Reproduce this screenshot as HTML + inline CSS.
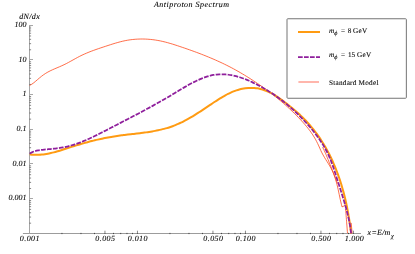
<!DOCTYPE html>
<html><head><meta charset="utf-8">
<style>
html,body{margin:0;padding:0;background:#fff;}
body{width:415px;height:254px;overflow:hidden;}
svg{display:block;}
text{font-family:"Liberation Serif",serif;fill:#000;stroke:#000;stroke-width:0.09px;text-rendering:geometricPrecision;}
</style></head><body>
<svg width="415" height="254" viewBox="0 0 415 254">
<rect width="415" height="254" fill="#fff"/>
<g fill="none" stroke-width="1">
<line x1="22.9" y1="233.5" x2="361" y2="233.5" stroke="#9c9c9c"/>
<line x1="29.5" y1="25" x2="29.5" y2="233.5" stroke="#a6a6a6"/>
<line x1="29" y1="223.18" x2="31.1" y2="223.18" stroke="#7c7c7c" stroke-width="0.9"/>
<line x1="29" y1="217.07" x2="31.1" y2="217.07" stroke="#7c7c7c" stroke-width="0.9"/>
<line x1="29" y1="212.74" x2="31.1" y2="212.74" stroke="#7c7c7c" stroke-width="0.9"/>
<line x1="29" y1="209.38" x2="31.1" y2="209.38" stroke="#7c7c7c" stroke-width="0.9"/>
<line x1="29" y1="206.63" x2="31.1" y2="206.63" stroke="#7c7c7c" stroke-width="0.9"/>
<line x1="29" y1="204.31" x2="31.1" y2="204.31" stroke="#7c7c7c" stroke-width="0.9"/>
<line x1="29" y1="202.30" x2="31.1" y2="202.30" stroke="#7c7c7c" stroke-width="0.9"/>
<line x1="29" y1="200.53" x2="31.1" y2="200.53" stroke="#7c7c7c" stroke-width="0.9"/>
<line x1="29" y1="198.50" x2="33" y2="198.50" stroke="#a8a8a8"/>
<line x1="29" y1="188.50" x2="31.1" y2="188.50" stroke="#7c7c7c" stroke-width="0.9"/>
<line x1="29" y1="182.39" x2="31.1" y2="182.39" stroke="#7c7c7c" stroke-width="0.9"/>
<line x1="29" y1="178.06" x2="31.1" y2="178.06" stroke="#7c7c7c" stroke-width="0.9"/>
<line x1="29" y1="174.70" x2="31.1" y2="174.70" stroke="#7c7c7c" stroke-width="0.9"/>
<line x1="29" y1="171.95" x2="31.1" y2="171.95" stroke="#7c7c7c" stroke-width="0.9"/>
<line x1="29" y1="169.63" x2="31.1" y2="169.63" stroke="#7c7c7c" stroke-width="0.9"/>
<line x1="29" y1="167.62" x2="31.1" y2="167.62" stroke="#7c7c7c" stroke-width="0.9"/>
<line x1="29" y1="165.85" x2="31.1" y2="165.85" stroke="#7c7c7c" stroke-width="0.9"/>
<line x1="29" y1="163.50" x2="33" y2="163.50" stroke="#a8a8a8"/>
<line x1="29" y1="153.82" x2="31.1" y2="153.82" stroke="#7c7c7c" stroke-width="0.9"/>
<line x1="29" y1="147.71" x2="31.1" y2="147.71" stroke="#7c7c7c" stroke-width="0.9"/>
<line x1="29" y1="143.38" x2="31.1" y2="143.38" stroke="#7c7c7c" stroke-width="0.9"/>
<line x1="29" y1="140.02" x2="31.1" y2="140.02" stroke="#7c7c7c" stroke-width="0.9"/>
<line x1="29" y1="137.27" x2="31.1" y2="137.27" stroke="#7c7c7c" stroke-width="0.9"/>
<line x1="29" y1="134.95" x2="31.1" y2="134.95" stroke="#7c7c7c" stroke-width="0.9"/>
<line x1="29" y1="132.94" x2="31.1" y2="132.94" stroke="#7c7c7c" stroke-width="0.9"/>
<line x1="29" y1="131.17" x2="31.1" y2="131.17" stroke="#7c7c7c" stroke-width="0.9"/>
<line x1="29" y1="129.50" x2="33" y2="129.50" stroke="#a8a8a8"/>
<line x1="29" y1="119.14" x2="31.1" y2="119.14" stroke="#7c7c7c" stroke-width="0.9"/>
<line x1="29" y1="113.03" x2="31.1" y2="113.03" stroke="#7c7c7c" stroke-width="0.9"/>
<line x1="29" y1="108.70" x2="31.1" y2="108.70" stroke="#7c7c7c" stroke-width="0.9"/>
<line x1="29" y1="105.34" x2="31.1" y2="105.34" stroke="#7c7c7c" stroke-width="0.9"/>
<line x1="29" y1="102.59" x2="31.1" y2="102.59" stroke="#7c7c7c" stroke-width="0.9"/>
<line x1="29" y1="100.27" x2="31.1" y2="100.27" stroke="#7c7c7c" stroke-width="0.9"/>
<line x1="29" y1="98.26" x2="31.1" y2="98.26" stroke="#7c7c7c" stroke-width="0.9"/>
<line x1="29" y1="96.49" x2="31.1" y2="96.49" stroke="#7c7c7c" stroke-width="0.9"/>
<line x1="29" y1="94.50" x2="33" y2="94.50" stroke="#a8a8a8"/>
<line x1="29" y1="84.46" x2="31.1" y2="84.46" stroke="#7c7c7c" stroke-width="0.9"/>
<line x1="29" y1="78.35" x2="31.1" y2="78.35" stroke="#7c7c7c" stroke-width="0.9"/>
<line x1="29" y1="74.02" x2="31.1" y2="74.02" stroke="#7c7c7c" stroke-width="0.9"/>
<line x1="29" y1="70.66" x2="31.1" y2="70.66" stroke="#7c7c7c" stroke-width="0.9"/>
<line x1="29" y1="67.91" x2="31.1" y2="67.91" stroke="#7c7c7c" stroke-width="0.9"/>
<line x1="29" y1="65.59" x2="31.1" y2="65.59" stroke="#7c7c7c" stroke-width="0.9"/>
<line x1="29" y1="63.58" x2="31.1" y2="63.58" stroke="#7c7c7c" stroke-width="0.9"/>
<line x1="29" y1="61.81" x2="31.1" y2="61.81" stroke="#7c7c7c" stroke-width="0.9"/>
<line x1="29" y1="59.50" x2="33" y2="59.50" stroke="#a8a8a8"/>
<line x1="29" y1="49.78" x2="31.1" y2="49.78" stroke="#7c7c7c" stroke-width="0.9"/>
<line x1="29" y1="43.67" x2="31.1" y2="43.67" stroke="#7c7c7c" stroke-width="0.9"/>
<line x1="29" y1="39.34" x2="31.1" y2="39.34" stroke="#7c7c7c" stroke-width="0.9"/>
<line x1="29" y1="35.98" x2="31.1" y2="35.98" stroke="#7c7c7c" stroke-width="0.9"/>
<line x1="29" y1="33.23" x2="31.1" y2="33.23" stroke="#7c7c7c" stroke-width="0.9"/>
<line x1="29" y1="30.91" x2="31.1" y2="30.91" stroke="#7c7c7c" stroke-width="0.9"/>
<line x1="29" y1="28.90" x2="31.1" y2="28.90" stroke="#7c7c7c" stroke-width="0.9"/>
<line x1="29" y1="27.13" x2="31.1" y2="27.13" stroke="#7c7c7c" stroke-width="0.9"/>
<line x1="29" y1="25.50" x2="33" y2="25.50" stroke="#a8a8a8"/>
<line x1="61.96" y1="232.9" x2="61.96" y2="234.1" stroke="#444"/>
<line x1="80.98" y1="232.9" x2="80.98" y2="234.1" stroke="#444"/>
<line x1="94.47" y1="232.9" x2="94.47" y2="234.1" stroke="#444"/>
<line x1="104.94" y1="233" x2="104.94" y2="230.7" stroke="#888"/>
<line x1="104.94" y1="233" x2="104.94" y2="234" stroke="#555"/>
<line x1="113.49" y1="232.9" x2="113.49" y2="234.1" stroke="#444"/>
<line x1="120.72" y1="232.9" x2="120.72" y2="234.1" stroke="#444"/>
<line x1="126.98" y1="232.9" x2="126.98" y2="234.1" stroke="#444"/>
<line x1="132.51" y1="232.9" x2="132.51" y2="234.1" stroke="#444"/>
<line x1="137.45" y1="233" x2="137.45" y2="230.7" stroke="#888"/>
<line x1="137.45" y1="233" x2="137.45" y2="234" stroke="#555"/>
<line x1="169.96" y1="232.9" x2="169.96" y2="234.1" stroke="#444"/>
<line x1="188.98" y1="232.9" x2="188.98" y2="234.1" stroke="#444"/>
<line x1="202.47" y1="232.9" x2="202.47" y2="234.1" stroke="#444"/>
<line x1="212.94" y1="233" x2="212.94" y2="230.7" stroke="#888"/>
<line x1="212.94" y1="233" x2="212.94" y2="234" stroke="#555"/>
<line x1="221.49" y1="232.9" x2="221.49" y2="234.1" stroke="#444"/>
<line x1="228.72" y1="232.9" x2="228.72" y2="234.1" stroke="#444"/>
<line x1="234.98" y1="232.9" x2="234.98" y2="234.1" stroke="#444"/>
<line x1="240.51" y1="232.9" x2="240.51" y2="234.1" stroke="#444"/>
<line x1="245.45" y1="233" x2="245.45" y2="230.7" stroke="#888"/>
<line x1="245.45" y1="233" x2="245.45" y2="234" stroke="#555"/>
<line x1="277.96" y1="232.9" x2="277.96" y2="234.1" stroke="#444"/>
<line x1="296.98" y1="232.9" x2="296.98" y2="234.1" stroke="#444"/>
<line x1="310.47" y1="232.9" x2="310.47" y2="234.1" stroke="#444"/>
<line x1="320.94" y1="233" x2="320.94" y2="230.7" stroke="#888"/>
<line x1="320.94" y1="233" x2="320.94" y2="234" stroke="#555"/>
<line x1="329.49" y1="232.9" x2="329.49" y2="234.1" stroke="#444"/>
<line x1="336.72" y1="232.9" x2="336.72" y2="234.1" stroke="#444"/>
<line x1="342.98" y1="232.9" x2="342.98" y2="234.1" stroke="#444"/>
<line x1="348.51" y1="232.9" x2="348.51" y2="234.1" stroke="#444"/>
<line x1="353.45" y1="233" x2="353.45" y2="230.7" stroke="#888"/>
<line x1="353.45" y1="233" x2="353.45" y2="234" stroke="#555"/>
</g>
<g fill="none" stroke-linejoin="round">
<path d="M29.63,85.41 C29.99,85.21 31.09,84.65 31.79,84.21 C32.49,83.76 33.15,83.26 33.81,82.75 C34.47,82.24 35.10,81.69 35.75,81.14 C36.39,80.60 37.03,80.04 37.67,79.49 C38.32,78.94 38.96,78.38 39.62,77.84 C40.27,77.30 40.92,76.76 41.59,76.24 C42.26,75.72 42.93,75.20 43.62,74.72 C44.31,74.23 45.01,73.76 45.72,73.32 C46.43,72.87 47.16,72.46 47.89,72.05 C48.63,71.65 49.38,71.26 50.13,70.89 C50.88,70.52 51.65,70.16 52.41,69.81 C53.18,69.46 53.96,69.12 54.73,68.79 C55.51,68.45 56.29,68.12 57.07,67.79 C57.85,67.46 58.63,67.13 59.41,66.80 C60.19,66.46 60.97,66.13 61.75,65.78 C62.52,65.43 63.29,65.08 64.06,64.71 C64.82,64.35 65.58,63.96 66.34,63.58 C67.09,63.19 67.84,62.79 68.59,62.39 C69.34,61.98 70.08,61.57 70.82,61.16 C71.56,60.75 72.30,60.33 73.05,59.92 C73.79,59.50 74.52,59.09 75.27,58.68 C76.01,58.27 76.75,57.86 77.49,57.46 C78.24,57.06 78.98,56.67 79.73,56.29 C80.49,55.90 81.24,55.53 82.00,55.17 C82.76,54.81 83.52,54.46 84.29,54.11 C85.05,53.77 85.82,53.44 86.60,53.11 C87.37,52.78 88.15,52.47 88.93,52.15 C89.70,51.84 90.49,51.54 91.27,51.24 C92.06,50.94 92.85,50.65 93.64,50.36 C94.43,50.07 95.22,49.79 96.01,49.51 C96.81,49.23 97.60,48.96 98.40,48.68 C99.20,48.41 100.00,48.14 100.80,47.87 C101.60,47.60 102.41,47.34 103.21,47.07 C104.02,46.81 104.82,46.54 105.63,46.27 C106.43,46.01 107.24,45.74 108.05,45.48 C108.86,45.21 109.66,44.95 110.47,44.69 C111.28,44.43 112.09,44.17 112.91,43.92 C113.72,43.67 114.53,43.42 115.35,43.18 C116.16,42.93 116.98,42.70 117.79,42.47 C118.61,42.24 119.43,42.02 120.25,41.81 C121.07,41.60 121.89,41.39 122.72,41.20 C123.54,41.01 124.37,40.83 125.19,40.66 C126.02,40.50 126.85,40.34 127.68,40.20 C128.51,40.06 129.34,39.93 130.18,39.81 C131.01,39.70 131.85,39.59 132.68,39.50 C133.52,39.41 134.36,39.33 135.20,39.27 C136.03,39.20 136.87,39.15 137.71,39.11 C138.55,39.07 139.39,39.04 140.23,39.03 C141.07,39.01 141.92,39.01 142.76,39.01 C143.60,39.02 144.44,39.04 145.28,39.07 C146.12,39.11 146.96,39.15 147.80,39.21 C148.64,39.26 149.48,39.33 150.32,39.41 C151.15,39.49 151.99,39.58 152.83,39.68 C153.66,39.79 154.50,39.90 155.33,40.03 C156.17,40.15 157.00,40.29 157.83,40.44 C158.66,40.59 159.49,40.75 160.32,40.92 C161.15,41.09 161.97,41.27 162.79,41.46 C163.62,41.65 164.44,41.85 165.26,42.06 C166.08,42.27 166.90,42.49 167.71,42.71 C168.53,42.94 169.35,43.17 170.16,43.41 C170.98,43.65 171.79,43.89 172.60,44.14 C173.41,44.39 174.22,44.65 175.03,44.91 C175.84,45.17 176.65,45.43 177.45,45.70 C178.26,45.96 179.06,46.23 179.87,46.50 C180.67,46.77 181.48,47.04 182.28,47.32 C183.08,47.59 183.89,47.86 184.69,48.14 C185.49,48.41 186.29,48.69 187.09,48.97 C187.89,49.25 188.68,49.53 189.48,49.81 C190.28,50.09 191.07,50.38 191.87,50.66 C192.66,50.95 193.46,51.24 194.25,51.53 C195.04,51.82 195.83,52.11 196.62,52.40 C197.42,52.70 198.20,52.99 198.99,53.29 C199.78,53.59 200.57,53.89 201.35,54.20 C202.14,54.50 202.92,54.81 203.71,55.12 C204.49,55.43 205.27,55.74 206.05,56.05 C206.83,56.37 207.61,56.68 208.39,57.00 C209.17,57.32 209.95,57.65 210.72,57.97 C211.50,58.30 212.27,58.63 213.05,58.96 C213.82,59.29 214.59,59.63 215.36,59.97 C216.13,60.31 216.90,60.65 217.67,61.00 C218.43,61.34 219.20,61.69 219.96,62.05 C220.73,62.40 221.49,62.76 222.25,63.12 C223.01,63.48 223.77,63.84 224.53,64.21 C225.29,64.58 226.04,64.95 226.80,65.33 C227.55,65.71 228.30,66.09 229.06,66.47 C229.81,66.86 230.56,67.25 231.31,67.64 C232.05,68.04 232.80,68.43 233.54,68.84 C234.29,69.24 235.03,69.65 235.77,70.06 C236.51,70.47 237.25,70.88 237.99,71.30 C238.73,71.72 239.46,72.14 240.20,72.57 C240.93,72.99 241.66,73.42 242.39,73.86 C243.12,74.29 243.85,74.73 244.58,75.17 C245.30,75.61 246.03,76.05 246.75,76.50 C247.47,76.94 248.19,77.39 248.91,77.84 C249.63,78.30 250.34,78.75 251.06,79.21 C251.77,79.67 252.48,80.13 253.19,80.59 C253.90,81.06 254.61,81.52 255.31,81.99 C256.02,82.46 256.72,82.93 257.42,83.40 C258.12,83.88 258.82,84.35 259.51,84.83 C260.21,85.31 260.90,85.79 261.59,86.28 C262.28,86.76 262.97,87.25 263.66,87.74 C264.35,88.23 265.03,88.72 265.71,89.22 C266.39,89.71 267.07,90.21 267.75,90.71 C268.43,91.21 269.10,91.72 269.77,92.23 C270.44,92.73 271.11,93.24 271.78,93.76 C272.45,94.27 273.11,94.79 273.77,95.31 C274.44,95.83 275.10,96.35 275.75,96.88 C276.41,97.40 277.06,97.93 277.71,98.47 C278.37,99.00 279.02,99.53 279.66,100.07 C280.31,100.61 280.95,101.15 281.59,101.70 C282.24,102.25 282.87,102.80 283.51,103.35 C284.15,103.90 284.78,104.46 285.41,105.02 C286.04,105.57 286.67,106.14 287.29,106.70 C287.92,107.27 288.54,107.84 289.16,108.41 C289.78,108.99 290.40,109.56 291.01,110.14 C291.62,110.73 292.23,111.31 292.84,111.90 C293.45,112.49 294.06,113.08 294.66,113.67 C295.26,114.27 295.86,114.87 296.46,115.47 C297.05,116.07 297.65,116.68 298.24,117.29 C298.83,117.90 299.42,118.52 300.00,119.14 C300.59,119.75 301.17,120.38 301.74,121.00 C302.32,121.63 302.89,122.26 303.46,122.90 C304.02,123.54 304.58,124.18 305.14,124.82 C305.69,125.47 306.24,126.12 306.78,126.77 C307.31,127.43 307.85,128.09 308.37,128.76 C308.89,129.42 309.40,130.10 309.91,130.77 C310.41,131.45 310.90,132.13 311.39,132.82 C311.87,133.51 312.34,134.21 312.80,134.91 C313.26,135.61 313.71,136.32 314.14,137.04 C314.58,137.75 315.00,138.47 315.41,139.20 C315.82,139.93 316.21,140.67 316.59,141.41 C316.98,142.15 317.34,142.90 317.71,143.65 C318.07,144.40 318.42,145.16 318.77,145.93 C319.12,146.69 319.45,147.46 319.79,148.23 C320.13,149.00 320.46,149.77 320.82,150.54 C321.17,151.30 321.53,152.07 321.91,152.82 C322.29,153.57 322.69,154.31 323.11,155.05 C323.52,155.79 323.95,156.51 324.38,157.24 C324.82,157.97 325.26,158.69 325.71,159.41 C326.15,160.12 326.61,160.84 327.06,161.56 C327.51,162.28 327.96,162.99 328.40,163.71 C328.84,164.43 329.28,165.15 329.70,165.88 C330.13,166.61 330.54,167.34 330.94,168.08 C331.34,168.82 331.72,169.57 332.09,170.32 C332.45,171.08 332.79,171.84 333.12,172.62 C333.45,173.39 333.76,174.17 334.06,174.95 C334.35,175.74 334.63,176.53 334.90,177.32 C335.17,178.12 335.42,178.92 335.67,179.73 C335.91,180.54 336.14,181.35 336.37,182.16 C336.59,182.97 336.80,183.79 337.01,184.61 C337.22,185.43 337.41,186.26 337.61,187.08 C337.80,187.90 337.98,188.73 338.17,189.56 C338.35,190.39 338.53,191.22 338.70,192.05 C338.88,192.88 339.05,193.71 339.23,194.54 C339.40,195.37 339.57,196.20 339.75,197.03 C339.92,197.86 340.10,198.69 340.28,199.51 C340.46,200.34 340.64,201.16 340.83,201.99 C341.02,202.81 341.21,203.63 341.41,204.45 C341.61,205.26 341.92,206.48 342.03,206.89" stroke="#ff3a0a" stroke-width="0.74"/>
<path d="M342.00,206.90 C342.43,206.68 344.07,206.17 344.60,205.60 C345.13,205.03 345.10,203.85 345.20,203.50" stroke="#ff3a0a" stroke-width="0.74"/>
<path d="M322.60,147.20 C322.98,148.00 324.13,150.30 324.90,152.00 C325.67,153.70 326.18,154.92 327.20,157.40 C328.22,159.88 329.95,164.27 331.00,166.90 C332.05,169.53 332.73,171.27 333.50,173.20 C334.27,175.13 334.92,176.78 335.60,178.50 C336.28,180.22 337.27,182.67 337.60,183.50" stroke="#ff3a0a" stroke-width="0.74"/>
<path d="M345.60,209.00 C345.78,211.32 346.38,218.87 346.70,222.90 C347.02,226.93 347.37,231.48 347.50,233.20" stroke="#ff3a0a" stroke-width="0.74"/>
<path d="M351.20,222.90 C351.35,224.62 351.95,231.48 352.10,233.20" stroke="#ff3a0a" stroke-width="0.74"/>
<path d="M29.73,154.33 C30.24,154.39 31.77,154.60 32.79,154.69 C33.81,154.78 34.82,154.83 35.84,154.84 C36.85,154.86 37.86,154.85 38.87,154.80 C39.87,154.76 40.88,154.69 41.88,154.59 C42.88,154.49 43.88,154.36 44.88,154.22 C45.88,154.07 46.88,153.90 47.87,153.71 C48.87,153.52 49.86,153.30 50.85,153.08 C51.84,152.85 52.83,152.61 53.82,152.35 C54.80,152.09 55.79,151.82 56.77,151.54 C57.76,151.26 58.74,150.96 59.72,150.67 C60.70,150.37 61.68,150.06 62.66,149.75 C63.64,149.44 64.62,149.12 65.59,148.81 C66.57,148.49 67.55,148.17 68.52,147.86 C69.50,147.54 70.47,147.23 71.44,146.92 C72.42,146.61 73.39,146.30 74.36,146.00 C75.33,145.70 76.31,145.40 77.28,145.11 C78.25,144.82 79.22,144.53 80.19,144.24 C81.16,143.96 82.14,143.68 83.11,143.40 C84.08,143.13 85.05,142.85 86.03,142.59 C87.00,142.32 87.97,142.06 88.95,141.80 C89.92,141.54 90.89,141.29 91.87,141.05 C92.85,140.80 93.82,140.56 94.80,140.32 C95.78,140.08 96.76,139.85 97.74,139.63 C98.72,139.40 99.70,139.18 100.68,138.96 C101.66,138.75 102.65,138.54 103.64,138.34 C104.62,138.13 105.61,137.94 106.60,137.75 C107.59,137.56 108.59,137.37 109.58,137.19 C110.58,137.01 111.57,136.84 112.57,136.67 C113.57,136.51 114.57,136.35 115.58,136.19 C116.58,136.04 117.59,135.90 118.60,135.75 C119.61,135.61 120.63,135.48 121.64,135.35 C122.65,135.21 123.67,135.09 124.69,134.96 C125.70,134.84 126.72,134.72 127.74,134.60 C128.76,134.48 129.78,134.36 130.80,134.25 C131.82,134.13 132.85,134.01 133.87,133.89 C134.89,133.78 135.91,133.66 136.93,133.54 C137.95,133.42 138.97,133.30 139.99,133.17 C141.01,133.04 142.03,132.92 143.04,132.78 C144.06,132.65 145.07,132.51 146.09,132.37 C147.10,132.23 148.11,132.08 149.12,131.92 C150.13,131.76 151.14,131.60 152.14,131.43 C153.14,131.26 154.14,131.08 155.14,130.89 C156.14,130.70 157.13,130.50 158.12,130.29 C159.11,130.09 160.10,129.87 161.08,129.63 C162.06,129.40 163.04,129.16 164.01,128.90 C164.98,128.64 165.95,128.38 166.91,128.09 C167.88,127.81 168.83,127.51 169.78,127.19 C170.74,126.88 171.68,126.55 172.62,126.20 C173.56,125.85 174.49,125.49 175.42,125.11 C176.35,124.73 177.27,124.34 178.19,123.93 C179.11,123.52 180.02,123.10 180.93,122.66 C181.83,122.23 182.74,121.78 183.63,121.32 C184.53,120.86 185.43,120.38 186.32,119.90 C187.21,119.42 188.09,118.93 188.97,118.42 C189.86,117.92 190.74,117.41 191.61,116.89 C192.49,116.37 193.36,115.84 194.23,115.31 C195.10,114.77 195.97,114.23 196.84,113.68 C197.71,113.13 198.57,112.58 199.43,112.02 C200.30,111.47 201.16,110.90 202.02,110.34 C202.88,109.77 203.74,109.20 204.59,108.63 C205.45,108.06 206.31,107.49 207.17,106.92 C208.02,106.34 208.88,105.77 209.74,105.19 C210.60,104.62 211.45,104.05 212.31,103.48 C213.17,102.90 214.03,102.33 214.89,101.77 C215.75,101.20 216.61,100.63 217.47,100.08 C218.34,99.52 219.20,98.97 220.07,98.43 C220.94,97.89 221.82,97.35 222.70,96.84 C223.58,96.32 224.46,95.81 225.35,95.32 C226.24,94.83 227.13,94.35 228.04,93.90 C228.94,93.44 229.85,93.00 230.77,92.58 C231.69,92.17 232.62,91.77 233.56,91.40 C234.49,91.03 235.44,90.68 236.40,90.37 C237.36,90.05 238.33,89.76 239.31,89.50 C240.29,89.24 241.28,89.00 242.28,88.80 C243.27,88.61 244.28,88.44 245.29,88.30 C246.29,88.17 247.30,88.06 248.31,88.00 C249.33,87.93 250.34,87.89 251.35,87.89 C252.35,87.90 253.36,87.93 254.36,88.01 C255.36,88.08 256.36,88.19 257.34,88.34 C258.32,88.49 259.30,88.68 260.26,88.91 C261.22,89.13 262.17,89.40 263.12,89.70 C264.06,90.00 264.99,90.34 265.91,90.70 C266.83,91.06 267.74,91.46 268.64,91.89 C269.55,92.31 270.44,92.76 271.33,93.24 C272.21,93.71 273.09,94.21 273.96,94.73 C274.83,95.25 275.70,95.80 276.56,96.35 C277.41,96.91 278.26,97.49 279.11,98.08 C279.95,98.66 280.79,99.27 281.63,99.88 C282.46,100.49 283.29,101.12 284.12,101.74 C284.95,102.37 285.77,103.01 286.59,103.65 C287.40,104.29 288.22,104.93 289.03,105.58 C289.84,106.23 290.65,106.88 291.45,107.54 C292.25,108.19 293.04,108.86 293.83,109.52 C294.62,110.19 295.41,110.87 296.18,111.54 C296.96,112.22 297.73,112.91 298.49,113.60 C299.25,114.29 300.01,114.99 300.75,115.69 C301.50,116.39 302.24,117.10 302.97,117.82 C303.70,118.54 304.42,119.26 305.13,119.99 C305.84,120.73 306.54,121.47 307.23,122.21 C307.92,122.96 308.60,123.71 309.27,124.47 C309.94,125.23 310.60,126.00 311.25,126.78 C311.90,127.55 312.55,128.33 313.18,129.12 C313.81,129.91 314.43,130.71 315.05,131.51 C315.66,132.31 316.26,133.12 316.86,133.93 C317.45,134.75 318.04,135.57 318.61,136.39 C319.19,137.22 319.76,138.05 320.32,138.89 C320.87,139.73 321.42,140.58 321.96,141.43 C322.50,142.28 323.04,143.13 323.56,143.99 C324.08,144.85 324.60,145.72 325.10,146.59 C325.61,147.47 326.10,148.34 326.59,149.22 C327.08,150.11 327.56,150.99 328.03,151.89 C328.51,152.78 328.97,153.68 329.43,154.58 C329.88,155.48 330.33,156.39 330.77,157.30 C331.21,158.21 331.64,159.12 332.06,160.04 C332.49,160.96 332.90,161.88 333.31,162.81 C333.72,163.74 334.12,164.67 334.51,165.60 C334.90,166.54 335.29,167.48 335.66,168.42 C336.04,169.36 336.41,170.31 336.77,171.26 C337.14,172.21 337.49,173.16 337.84,174.12 C338.19,175.07 338.53,176.03 338.86,177.00 C339.20,177.96 339.52,178.92 339.84,179.89 C340.16,180.86 340.47,181.83 340.78,182.80 C341.09,183.78 341.39,184.75 341.68,185.73 C341.97,186.71 342.26,187.69 342.54,188.67 C342.81,189.65 343.09,190.64 343.35,191.62 C343.62,192.61 343.88,193.60 344.13,194.59 C344.39,195.58 344.63,196.57 344.87,197.56 C345.12,198.56 345.35,199.55 345.58,200.55 C345.81,201.55 346.03,202.54 346.25,203.54 C346.47,204.54 346.68,205.54 346.88,206.54 C347.09,207.54 347.29,208.54 347.48,209.54 C347.68,210.55 347.86,211.55 348.05,212.55 C348.23,213.55 348.41,214.56 348.58,215.56 C348.75,216.57 348.92,217.57 349.08,218.57 C349.24,219.58 349.40,220.58 349.55,221.59 C349.70,222.59 349.85,223.60 349.99,224.60 C350.13,225.60 350.27,226.61 350.40,227.61 C350.53,228.61 350.66,229.61 350.78,230.61 C350.90,231.62 351.07,233.12 351.13,233.62" stroke="#ff9b12" stroke-width="2"/>
<path d="M29.65,153.50 C30.10,153.27 31.45,152.51 32.38,152.12 C33.31,151.72 34.27,151.41 35.24,151.13 C36.21,150.85 37.20,150.64 38.19,150.45 C39.19,150.25 40.20,150.11 41.22,149.98 C42.24,149.84 43.27,149.74 44.29,149.64 C45.32,149.53 46.36,149.43 47.39,149.33 C48.42,149.23 49.46,149.14 50.49,149.03 C51.53,148.93 52.56,148.82 53.60,148.71 C54.63,148.60 55.66,148.48 56.69,148.35 C57.72,148.22 58.75,148.08 59.78,147.92 C60.80,147.77 61.82,147.60 62.84,147.41 C63.85,147.23 64.86,147.02 65.87,146.80 C66.87,146.58 67.87,146.34 68.86,146.09 C69.86,145.83 70.85,145.56 71.83,145.27 C72.82,144.98 73.80,144.68 74.77,144.36 C75.75,144.05 76.72,143.72 77.69,143.38 C78.66,143.03 79.62,142.68 80.58,142.31 C81.54,141.94 82.50,141.56 83.45,141.17 C84.40,140.78 85.35,140.38 86.30,139.97 C87.25,139.56 88.19,139.15 89.13,138.72 C90.08,138.29 91.02,137.86 91.95,137.42 C92.89,136.98 93.83,136.53 94.76,136.07 C95.69,135.62 96.62,135.16 97.55,134.69 C98.48,134.23 99.41,133.76 100.34,133.29 C101.27,132.82 102.19,132.34 103.12,131.87 C104.04,131.39 104.97,130.91 105.89,130.43 C106.82,129.95 107.74,129.47 108.66,128.99 C109.59,128.51 110.51,128.03 111.43,127.55 C112.36,127.07 113.28,126.59 114.20,126.11 C115.13,125.63 116.05,125.15 116.97,124.68 C117.90,124.20 118.82,123.72 119.74,123.24 C120.66,122.77 121.59,122.29 122.51,121.81 C123.43,121.34 124.35,120.86 125.27,120.38 C126.19,119.91 127.11,119.43 128.03,118.95 C128.95,118.48 129.87,118.00 130.79,117.52 C131.71,117.04 132.63,116.56 133.55,116.08 C134.46,115.61 135.38,115.13 136.30,114.64 C137.21,114.16 138.13,113.68 139.04,113.20 C139.95,112.72 140.87,112.23 141.78,111.75 C142.69,111.26 143.60,110.78 144.51,110.29 C145.42,109.80 146.33,109.31 147.24,108.82 C148.14,108.33 149.05,107.84 149.96,107.35 C150.86,106.85 151.76,106.36 152.67,105.86 C153.57,105.36 154.47,104.86 155.37,104.36 C156.27,103.86 157.17,103.36 158.06,102.85 C158.96,102.35 159.86,101.84 160.75,101.33 C161.64,100.82 162.53,100.31 163.42,99.79 C164.31,99.28 165.20,98.76 166.09,98.24 C166.97,97.72 167.86,97.19 168.74,96.67 C169.62,96.14 170.50,95.61 171.38,95.08 C172.26,94.55 173.14,94.01 174.02,93.48 C174.90,92.95 175.78,92.41 176.66,91.88 C177.54,91.35 178.42,90.81 179.31,90.28 C180.19,89.75 181.08,89.22 181.97,88.69 C182.86,88.17 183.75,87.64 184.65,87.13 C185.55,86.61 186.45,86.09 187.36,85.58 C188.27,85.07 189.19,84.57 190.11,84.07 C191.03,83.58 191.96,83.08 192.90,82.60 C193.84,82.12 194.78,81.65 195.73,81.18 C196.69,80.72 197.65,80.27 198.62,79.83 C199.58,79.40 200.56,78.97 201.54,78.57 C202.52,78.17 203.50,77.79 204.49,77.43 C205.48,77.08 206.47,76.74 207.47,76.44 C208.47,76.13 209.47,75.85 210.47,75.61 C211.47,75.37 212.47,75.15 213.47,74.97 C214.48,74.80 215.48,74.66 216.49,74.55 C217.49,74.44 218.50,74.37 219.50,74.32 C220.51,74.28 221.52,74.27 222.52,74.29 C223.53,74.31 224.53,74.36 225.53,74.43 C226.54,74.51 227.54,74.62 228.54,74.75 C229.54,74.88 230.55,75.04 231.54,75.22 C232.54,75.41 233.54,75.61 234.53,75.85 C235.53,76.08 236.52,76.33 237.51,76.61 C238.50,76.88 239.49,77.18 240.47,77.50 C241.45,77.81 242.43,78.15 243.41,78.50 C244.39,78.85 245.36,79.23 246.33,79.61 C247.30,80.00 248.26,80.41 249.22,80.82 C250.18,81.24 251.14,81.67 252.09,82.12 C253.04,82.56 253.99,83.02 254.93,83.49 C255.87,83.96 256.80,84.44 257.73,84.92 C258.66,85.41 259.58,85.91 260.50,86.41 C261.42,86.92 262.33,87.43 263.23,87.95 C264.14,88.47 265.04,89.00 265.93,89.54 C266.82,90.08 267.71,90.62 268.59,91.17 C269.47,91.73 270.35,92.29 271.22,92.85 C272.09,93.42 272.95,94.00 273.81,94.58 C274.66,95.16 275.51,95.75 276.36,96.35 C277.20,96.95 278.04,97.55 278.88,98.17 C279.71,98.78 280.54,99.40 281.36,100.02 C282.18,100.65 283.00,101.28 283.81,101.92 C284.62,102.56 285.42,103.21 286.22,103.86 C287.02,104.51 287.81,105.18 288.60,105.84 C289.38,106.51 290.16,107.18 290.94,107.86 C291.71,108.54 292.48,109.23 293.25,109.92 C294.01,110.61 294.77,111.31 295.52,112.02 C296.27,112.72 297.02,113.43 297.76,114.15 C298.50,114.87 299.24,115.59 299.97,116.32 C300.70,117.05 301.42,117.78 302.14,118.52 C302.86,119.26 303.57,120.01 304.28,120.76 C304.99,121.51 305.69,122.27 306.39,123.03 C307.08,123.80 307.77,124.57 308.45,125.34 C309.14,126.11 309.81,126.90 310.48,127.68 C311.15,128.47 311.82,129.26 312.47,130.06 C313.12,130.86 313.77,131.66 314.41,132.47 C315.04,133.29 315.67,134.10 316.29,134.93 C316.91,135.75 317.52,136.58 318.12,137.42 C318.72,138.26 319.31,139.10 319.88,139.96 C320.46,140.81 321.03,141.67 321.59,142.53 C322.14,143.40 322.69,144.27 323.22,145.15 C323.75,146.03 324.27,146.92 324.78,147.82 C325.29,148.71 325.78,149.61 326.26,150.52 C326.75,151.44 327.21,152.35 327.67,153.28 C328.12,154.21 328.56,155.14 328.99,156.08 C329.41,157.03 329.82,157.98 330.22,158.94 C330.61,159.89 330.99,160.86 331.36,161.83 C331.74,162.80 332.09,163.78 332.44,164.76 C332.80,165.75 333.14,166.73 333.47,167.72 C333.81,168.71 334.13,169.71 334.45,170.70 C334.78,171.69 335.10,172.69 335.41,173.69 C335.73,174.68 336.04,175.68 336.35,176.68 C336.67,177.67 336.98,178.67 337.30,179.66 C337.61,180.65 337.93,181.64 338.25,182.63 C338.56,183.62 338.88,184.61 339.20,185.59 C339.51,186.58 339.83,187.57 340.14,188.55 C340.46,189.53 340.77,190.52 341.09,191.50 C341.40,192.49 341.71,193.47 342.02,194.45 C342.33,195.44 342.63,196.42 342.93,197.40 C343.24,198.39 343.54,199.37 343.83,200.35 C344.13,201.34 344.42,202.33 344.70,203.31 C344.99,204.30 345.27,205.29 345.55,206.28 C345.83,207.27 346.10,208.26 346.36,209.25 C346.63,210.24 346.89,211.24 347.14,212.24 C347.39,213.23 347.64,214.23 347.88,215.23 C348.11,216.24 348.35,217.24 348.57,218.25 C348.79,219.26 349.00,220.27 349.21,221.28 C349.41,222.30 349.61,223.32 349.80,224.34 C349.98,225.36 350.16,226.38 350.33,227.41 C350.49,228.44 350.65,229.48 350.79,230.52 C350.94,231.56 351.13,233.13 351.20,233.65" stroke="#8f1f9c" stroke-width="1.75" stroke-dasharray="4.7 1.3"/>
</g>
<rect x="287" y="18.75" width="119.35" height="79.5" fill="#fff" stroke="#747474" stroke-width="1" rx="0.8"/>
<line x1="298" y1="32" x2="320" y2="32" stroke="#ff9b12" stroke-width="2"/>
<line x1="298" y1="57" x2="320" y2="57" stroke="#8f1f9c" stroke-width="1.75" stroke-dasharray="4.7 1.3"/>
<line x1="298.4" y1="82" x2="319" y2="82" stroke="#ffb6ac" stroke-width="2"/>
<g style="filter:grayscale(1)">
<text x="154.00" y="6.60" text-anchor="start" font-style="italic" font-size="8" textLength="75" lengthAdjust="spacing">Antiproton Spectrum</text>
<text x="19.20" y="18.60" text-anchor="start" font-style="italic" font-size="8" textLength="20.6" lengthAdjust="spacing">dN/dx</text>
<text x="26.60" y="26.84" text-anchor="end" font-style="italic" font-size="8" >100</text>
<text x="26.60" y="61.52" text-anchor="end" font-style="italic" font-size="8" >10</text>
<text x="26.60" y="96.20" text-anchor="end" font-style="italic" font-size="8" >1</text>
<text x="26.60" y="130.88" text-anchor="end" font-style="italic" font-size="8" >0.1</text>
<text x="26.60" y="165.56" text-anchor="end" font-style="italic" font-size="8" >0.01</text>
<text x="26.60" y="200.24" text-anchor="end" font-style="italic" font-size="8" >0.001</text>
<text x="29.65" y="241.40" text-anchor="middle" font-style="italic" font-size="8" textLength="19.6" lengthAdjust="spacing">0.001</text>
<text x="105.14" y="241.40" text-anchor="middle" font-style="italic" font-size="8" textLength="19.6" lengthAdjust="spacing">0.005</text>
<text x="137.65" y="241.40" text-anchor="middle" font-style="italic" font-size="8" textLength="19.6" lengthAdjust="spacing">0.010</text>
<text x="213.14" y="241.40" text-anchor="middle" font-style="italic" font-size="8" textLength="19.6" lengthAdjust="spacing">0.050</text>
<text x="245.65" y="241.40" text-anchor="middle" font-style="italic" font-size="8" textLength="19.6" lengthAdjust="spacing">0.100</text>
<text x="321.14" y="241.40" text-anchor="middle" font-style="italic" font-size="8" textLength="19.6" lengthAdjust="spacing">0.500</text>
<text x="354.15" y="241.40" text-anchor="middle" font-style="italic" font-size="8" textLength="19.0" lengthAdjust="spacing">1.000</text>
<text x="367.60" y="235.20" text-anchor="start" font-style="italic" font-size="8" textLength="22.8" lengthAdjust="spacing">x=E/m</text>
<text x="390.90" y="237.60" text-anchor="start" font-style="italic" font-size="6.4" >χ</text>
<text x="329.00" y="32.80" text-anchor="start" font-style="italic" font-size="7.2" >m</text>
<text x="334.30" y="34.80" text-anchor="start" font-style="italic" font-size="6.0" >ϕ</text>
<text x="340.90" y="32.80" text-anchor="start" font-style="normal" font-size="7.2" >=</text>
<text x="347.80" y="32.80" text-anchor="start" font-style="normal" font-size="7.2" >8</text>
<text x="352.90" y="32.80" text-anchor="start" font-style="normal" font-size="7.2" textLength="14.3" lengthAdjust="spacing">GeV</text>
<text x="329.00" y="57.10" text-anchor="start" font-style="italic" font-size="7.2" >m</text>
<text x="334.30" y="59.10" text-anchor="start" font-style="italic" font-size="6.0" >ϕ</text>
<text x="340.90" y="57.10" text-anchor="start" font-style="normal" font-size="7.2" >=</text>
<text x="347.90" y="57.10" text-anchor="start" font-style="normal" font-size="7.2" >15</text>
<text x="357.00" y="57.10" text-anchor="start" font-style="normal" font-size="7.2" textLength="14.3" lengthAdjust="spacing">GeV</text>
<text x="329.00" y="84.70" text-anchor="start" font-style="normal" font-size="7.2" textLength="49.4" lengthAdjust="spacing">Standard Model</text>
</g>
</svg>
</body></html>
